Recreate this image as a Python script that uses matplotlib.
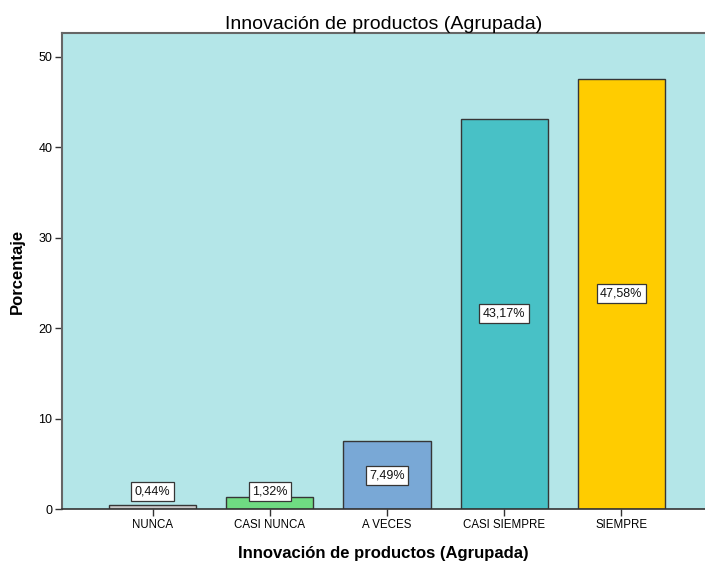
import matplotlib
matplotlib.use("Agg")
import matplotlib.pyplot as plt

categories = ["NUNCA", "CASI NUNCA", "A VECES", "CASI SIEMPRE", "SIEMPRE"]
values = [0.44, 1.32, 7.49, 43.17, 47.58]
labels = ["0,44%", "1,32%", "7,49%", "43,17%", "47,58%"]
colors = ["#c9c9c9", "#6fdb82", "#79a8d6", "#48c1c6", "#ffcc00"]
yticks = [0, 10, 20, 30, 40, 50]

plt.rcParams['font.family'] = ['Liberation Sans', 'DejaVu Sans']

fig = plt.figure(figsize=(7.05, 5.62), dpi=100)
ax = fig.add_axes([62/705, 53/562, 1 - 62/705, 476/562])
ax.set_facecolor("#b4e6e8")

x = list(range(len(categories)))
ax.bar(x, values, width=0.744, color=colors, edgecolor="#363636", linewidth=1.0, zorder=2)

for xi, v, lab in zip(x, values, labels):
    y = max(v / 2, 1.95)
    ax.text(xi, y, lab, ha="center", va="center", fontsize=9, color="#111111", zorder=3,
            bbox=dict(boxstyle="square,pad=0.28", facecolor="white", edgecolor="#363636", linewidth=0.9))

ax.set_xlim(-0.774, 4.714)
ax.set_ylim(0, 52.65)
ax.set_xticks(x)
ax.set_xticklabels(categories, fontsize=8.3)
ax.set_yticks(yticks)
ax.set_yticklabels([str(t) for t in yticks], fontsize=9)
ax.tick_params(axis="both", direction="out", length=5, width=1, color="#333333", pad=2)

for s in ["left", "top"]:
    ax.spines[s].set_color("#666666")
    ax.spines[s].set_linewidth(1.5)
ax.spines["bottom"].set_color("#333333")
ax.spines["bottom"].set_linewidth(1.2)
ax.spines["right"].set_visible(False)

ax.set_title("Innovación de productos (Agrupada)", fontsize=14, pad=3)
ax.set_xlabel("Innovación de productos (Agrupada)", fontsize=12, fontweight="bold", labelpad=11)
ax.set_ylabel("Porcentaje", fontsize=12, fontweight="bold", labelpad=10)

fig.savefig("out.png", dpi=100)
